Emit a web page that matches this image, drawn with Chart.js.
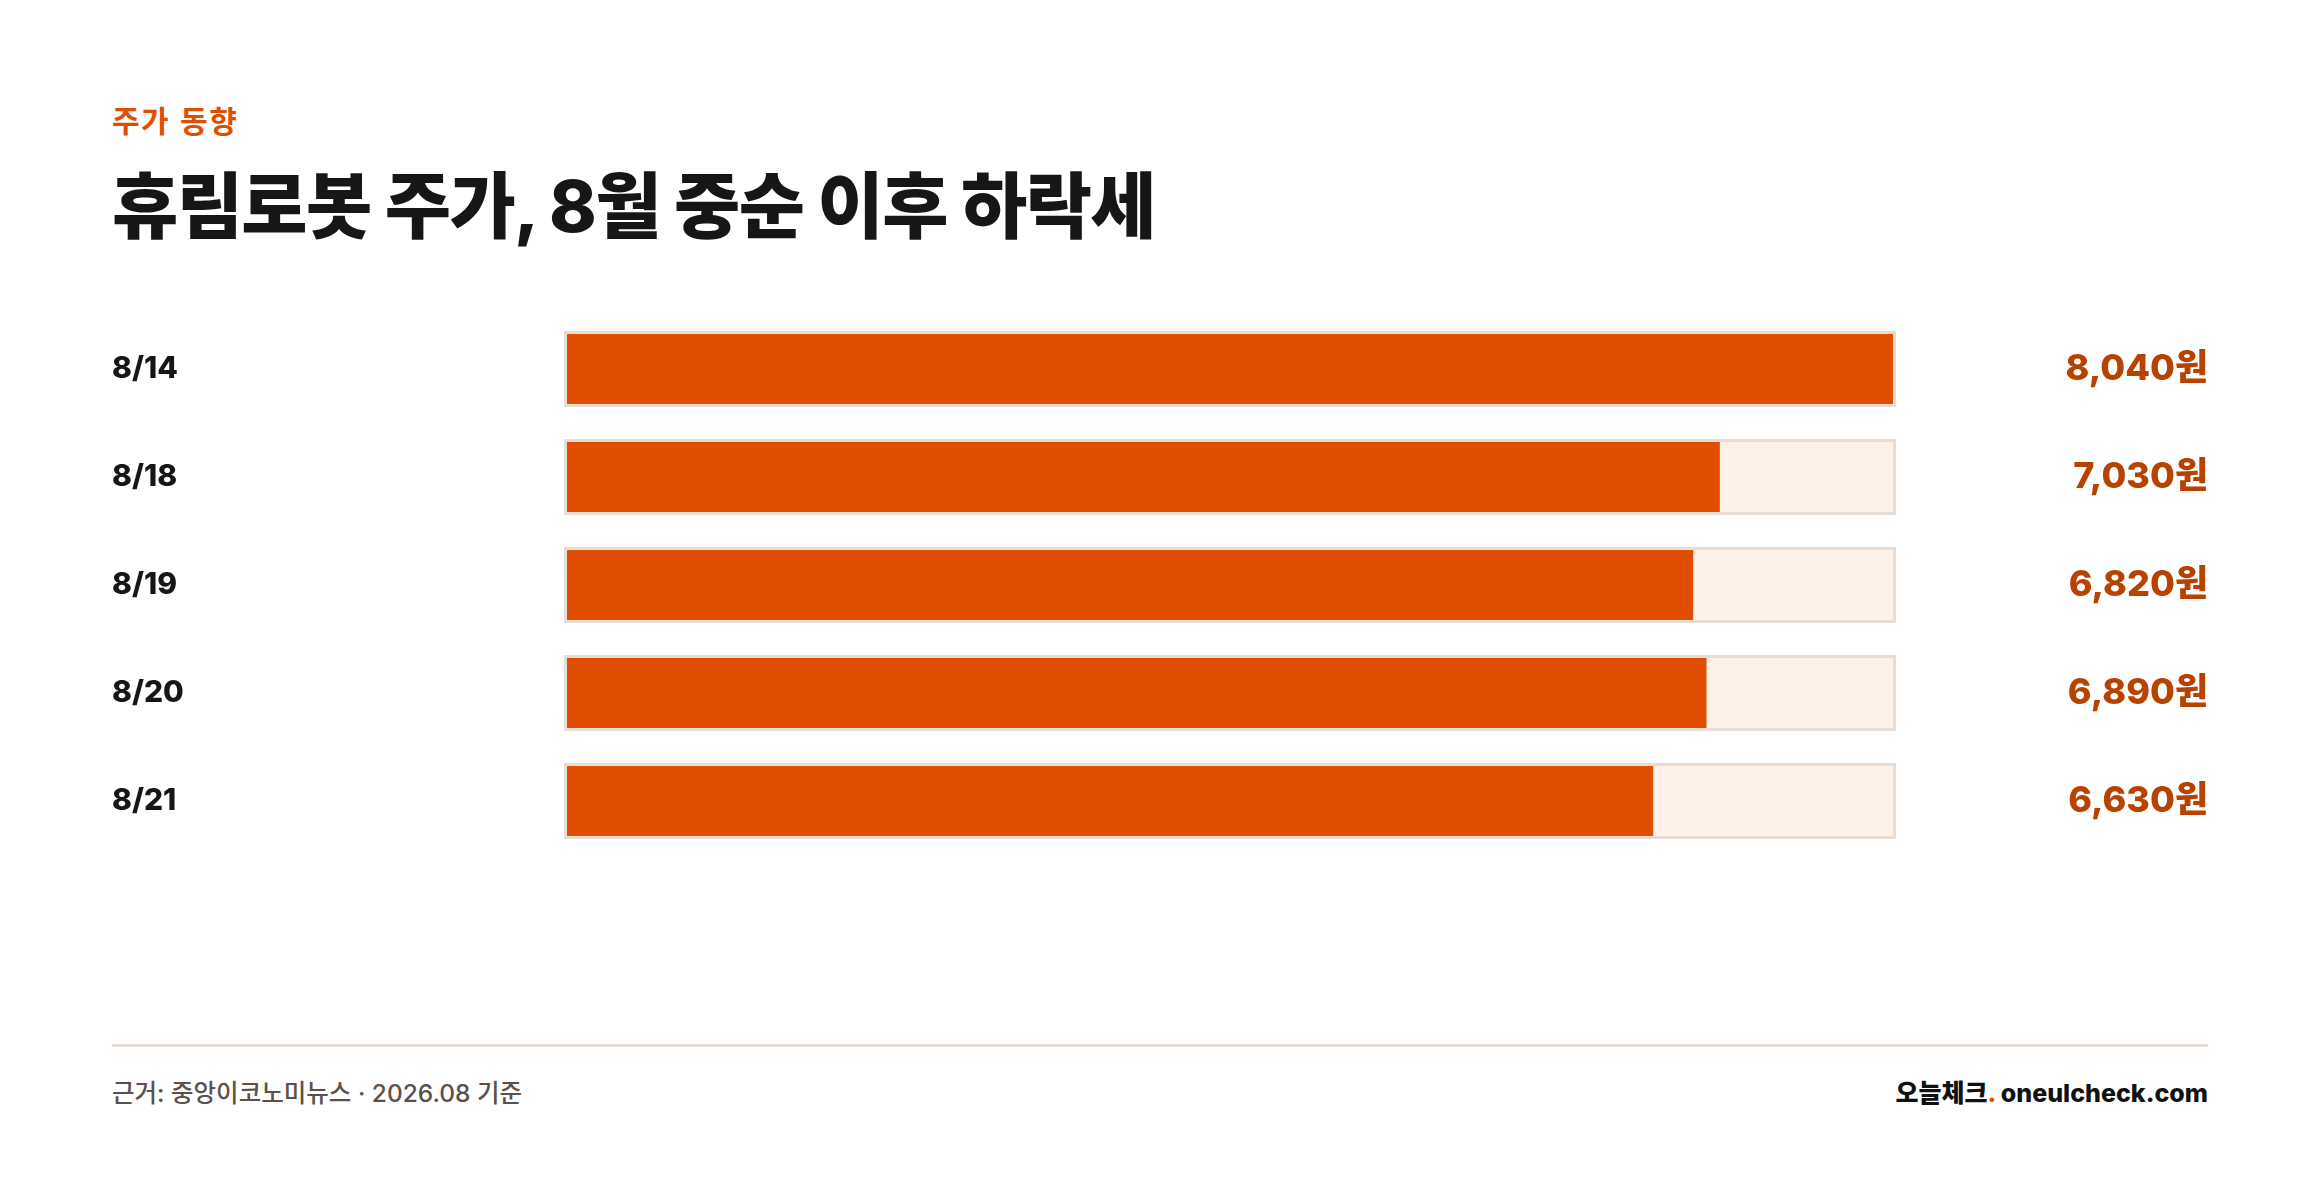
<!DOCTYPE html>
<html lang="ko">
<head>
<meta charset="utf-8">
<title>휴림로봇 주가</title>
<script src="https://cdn.jsdelivr.net/npm/chart.js@4.4.1/dist/chart.umd.min.js"></script>
<style>
  html, body { margin: 0; padding: 0; background: #ffffff; }
  body { width: 2320px; height: 1190px; position: relative; overflow: hidden;
         font-family: Inter, 'Noto Sans CJK KR', sans-serif; }
  .kicker { position: absolute; left: 112px; top: 104px; font-size: 30px; line-height: 30px;
            font-weight: 700; color: #E04E00; letter-spacing: 0.05em;
            font-family: 'Noto Sans CJK KR', sans-serif; }
  .title { position: absolute; left: 112px; top: 170px; font-size: 72px; line-height: 72px;
           font-weight: 800; color: #161616; letter-spacing: -0.022em; white-space: nowrap;
           font-family: Inter, 'Noto Sans CJK KR', sans-serif; }
  .chartbox { position: absolute; left: 0; top: 285px; width: 2320px; height: 600px; }
  .rule { position: absolute; left: 112px; width: 2096px; top: 1044px; height: 3px; background: #E8DDD4; }
  .src { position: absolute; left: 112px; top: 1081px; font-size: 24.5px; line-height: 24px;
         font-weight: 500; color: #5b514a; white-space: nowrap; }
  .brand { position: absolute; right: 112px; top: 1081px; font-size: 25px; line-height: 25px;
           font-weight: 800; color: #111111; white-space: nowrap; }
  .brand .dot { color: #E04E00; }
</style>
</head>
<body>
<div class="kicker">주가 동향</div>
<div class="title">휴림로봇 주가, 8월 중순 이후 하락세</div>
<div class="chartbox"><canvas id="c"></canvas></div>
<div class="rule"></div>
<div class="src">근거: 중앙이코노미뉴스 · 2026.08 기준</div>
<div class="brand">오늘체크<span class="dot">.</span> oneulcheck.com</div>
<script>
const dates = ['8/14', '8/18', '8/19', '8/20', '8/21'];
const prices = [8040, 7030, 6820, 6890, 6630];
const unit = '원';

const maxPrice = Math.max(...prices);
const barPercent = prices.map(p => Math.round(p / maxPrice * 100));
const trackPercent = dates.map(() => 100);

const FONT = "Inter, 'Noto Sans CJK KR', sans-serif";
const fmt = v => v.toLocaleString('en-US') + unit;

new Chart(document.getElementById('c'), {
  type: 'bar',
  data: {
    labels: dates,
    datasets: [
      {
        label: '주가',
        data: barPercent,
        backgroundColor: '#E04E00',
        borderColor: 'rgba(0,0,0,0)',
        borderWidth: 3,
        borderSkipped: false,
        barThickness: 76,
        grouped: false,
        inflateAmount: 0,
        order: 0
      },
      {
        label: 'track',
        data: trackPercent,
        backgroundColor: '#FDF1E8',
        borderColor: '#E8DDD4',
        borderWidth: 3,
        borderSkipped: false,
        barThickness: 76,
        grouped: false,
        inflateAmount: 0,
        order: 1
      }
    ]
  },
  options: {
    indexAxis: 'y',
    responsive: true,
    maintainAspectRatio: false,
    animation: false,
    layout: { padding: { left: 112, right: 112, top: 30, bottom: 30 } },
    plugins: { legend: { display: false }, tooltip: { enabled: false } },
    scales: {
      x: { display: false, min: 0, max: 100 },
      y: {
        position: 'left',
        grid: { display: false },
        border: { display: false },
        afterFit: s => { s.width = 452; },
        ticks: {
          crossAlign: 'far',
          padding: 0,
          color: '#161616',
          font: { family: FONT, size: 30, weight: '800' }
        }
      },
      y2: {
        type: 'category',
        position: 'right',
        labels: dates,
        grid: { display: false },
        border: { display: false },
        afterFit: s => { s.width = 312; },
        ticks: {
          crossAlign: 'far',
          padding: 0,
          color: '#B84300',
          font: { family: FONT, size: 36, weight: '800' },
          callback: (v, i) => fmt(prices[i])
        }
      }
    }
  }
});
</script>
</body>
</html>
